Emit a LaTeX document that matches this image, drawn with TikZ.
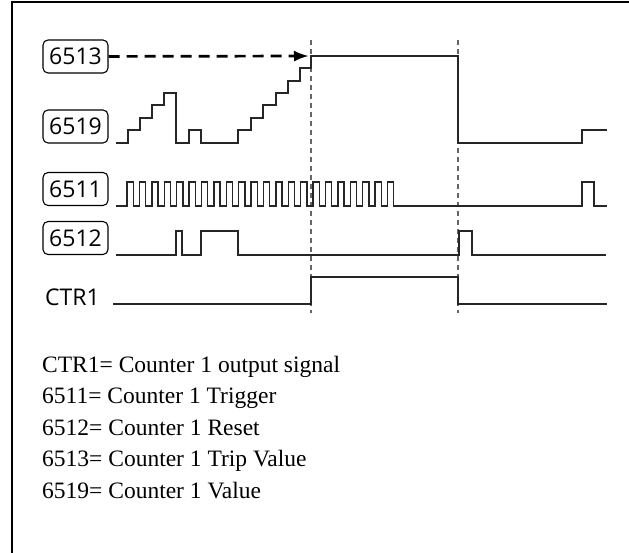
\documentclass[tikz,border=0pt]{standalone}
\usepackage{fontspec}
\setmainfont{Liberation Serif}
\newfontfamily\regfont{Open Sans}
\usetikzlibrary{arrows.meta}

\begin{document}
\begin{tikzpicture}[x=1pt,y=-1pt,
  regbox/.style={draw,rounded corners=5pt,line width=1.1pt,minimum width=65pt,
    minimum height=33pt,inner sep=0pt,font=\regfont\fontsize{23}{27}\selectfont},
  wave/.style={line width=1.4pt,black!85},
  marker/.style={black!60,line width=1.1pt,dash pattern=on 5pt off 4pt}]
  \useasboundingbox (0,0) rectangle (629,553);
  \draw[line width=1.5pt] (629,2) -- (12,2) -- (12,553);
  % register labels
  \node[regbox] (r6513) at (75.5,56.5) {6513};
  \node[regbox] (r6519) at (75.5,126.5) {6519};
  \node[regbox] (r6511) at (75.5,189) {6511};
  \node[regbox] (r6512) at (75.5,238) {6512};
  \node[anchor=west,inner sep=0pt,font=\regfont\fontsize{23}{27}\selectfont] (ctr) at (45,297) {CTR1};
  % time markers
  \draw[marker] (311,40) -- (311,313);
  \draw[marker] (458,40) -- (458,313);
  % trip value
  \coordinate (trip) at (309,56);
  \draw[line width=2.7pt,dash pattern=on 11pt off 7pt,-{Latex[length=15pt,width=11pt]}] (r6513) -- (trip);
  % counter value
  \draw[wave] (116,143) -| (128,130) -| (140,118) -| (152,105) -| (164,93) -| (176,143)
    -| (189,130) -| (201,143) -| (238,130) -| (251,118) -| (263,105) -| (276,93)
    -| (288,81) -| (300,68) -| (311,56) -| (458,143) -| (582,130) -- (607,130);
  % trigger
  \draw[wave] (116,206) -- (127,206)
    \foreach \k in {1,...,22} { -- ++(0,-24) -- ++(6.2,0) -- ++(0,24) -- ++(6.2,0) }
    -- (582,206) -- (582,182) -- (594,182) -- (594,206) -- (607,206);
  % reset
  \draw[wave] (116,255) -- (176,255) -- (176,231) -- (182,231) -- (182,255) -- (201,255)
    -- (201,231) -- (238,231) -- (238,255) -- (459,255) -- (459,231) -- (472,231)
    -- (472,255) -- (606,255);
  % output
  \draw[wave] (113,304) -- (311,304) -- (311,277) -- (458,277) -- (458,304) -- (607,304);
  % legend
  \foreach \i/\txt in {0/CTR1= Counter 1 output signal, 1/6511= Counter 1 Trigger,
                       2/6512= Counter 1 Reset, 3/6513= Counter 1 Trip Value,
                       4/6519= Counter 1 Value} {
    \node[anchor=base west,inner sep=0pt,font=\fontsize{23.5}{28}\selectfont] (leg\i) at (42,372+31.5*\i) {\txt};
  }
\end{tikzpicture}
\end{document}
